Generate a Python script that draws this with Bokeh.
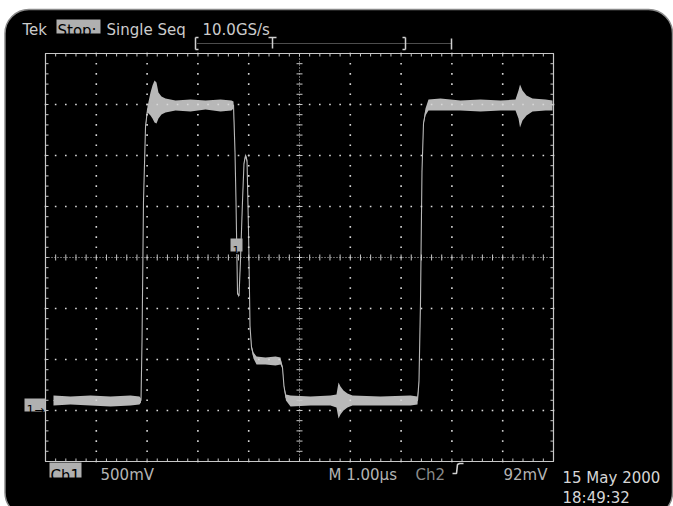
from bokeh.plotting import figure
from bokeh.models import BoxAnnotation, Label, Range1d
from bokeh.embed import file_html
from bokeh.resources import INLINE

# ---------------- data (read from the screen capture) ----------------
# time in microseconds from left edge of graticule, voltage envelope (V) of CH1
time_us = [0.157, 0.492, 0.886, 1.280, 1.673, 1.850, 1.880, 1.900, 1.929, 1.969,
           2.008, 2.067, 2.106, 2.146, 2.185, 2.224, 2.283, 2.362, 2.559, 2.854,
           3.150, 3.445, 3.661, 3.701, 3.730, 3.750, 3.780, 3.809, 3.839, 3.878,
           3.907, 3.937, 3.967, 3.996, 4.026, 4.055, 4.094, 4.154, 4.331, 4.528,
           4.626, 4.665, 4.695, 4.734, 4.823, 5.217, 5.610, 5.728, 5.768, 5.807,
           5.866, 5.945, 6.043, 6.594, 7.185, 7.323, 7.352, 7.382, 7.411, 7.441,
           7.480, 7.539, 7.776, 8.169, 8.563, 8.957, 9.252, 9.311, 9.341, 9.390,
           9.469, 9.587, 9.843, 9.980]
trace_hi_v = [0.078, 0.069, 0.078, 0.069, 0.078, 0.069, 0.049, 0.618, 1.990, 2.725,
              2.912, 3.049, 3.118, 3.167, 3.147, 3.049, 3.010, 2.990, 2.971, 2.980,
              2.971, 2.980, 2.971, 2.961, 2.480, 1.990, 1.088, 1.069, 1.422, 1.990,
              2.363, 2.451, 2.402, 1.716, 0.765, 0.569, 0.500, 0.461, 0.451, 0.461,
              0.451, 0.363, 0.176, 0.088, 0.078, 0.069, 0.078, 0.088, 0.206, 0.167,
              0.127, 0.098, 0.078, 0.069, 0.078, 0.069, 0.225, 1.010, 2.284, 2.755,
              2.892, 2.980, 2.990, 2.971, 2.980, 2.971, 2.980, 3.069, 3.127, 3.069,
              3.020, 2.990, 2.980, 2.971]
trace_lo_v = [-0.020, -0.010, -0.020, -0.029, -0.020, -0.010, 0.010, 0.598, 1.971, 2.706,
              2.853, 2.824, 2.794, 2.755, 2.745, 2.794, 2.833, 2.853, 2.873, 2.863,
              2.882, 2.863, 2.873, 2.892, 2.461, 1.971, 1.069, 1.039, 1.402, 1.971,
              2.343, 2.412, 2.363, 1.696, 0.745, 0.539, 0.441, 0.382, 0.382, 0.373,
              0.382, 0.343, 0.157, 0.029, -0.029, -0.020, -0.020, -0.039, -0.147, -0.108,
              -0.069, -0.039, -0.020, -0.020, -0.020, -0.010, 0.206, 0.990, 2.265, 2.735,
              2.824, 2.873, 2.873, 2.873, 2.863, 2.873, 2.873, 2.794, 2.706, 2.775,
              2.824, 2.863, 2.873, 2.873]

volts_per_div = 0.5
us_per_div = 1.0
n_xdiv = 10
n_ydiv = 8
ground_divs_above_bottom = 1.137

header_texts = ["Tek", "Stop:", "Single Seq", "10.0GS/s"]
footer_texts = ["Ch1", "500mV", "M 1.00\u00b5s", "Ch2", "92mV"]
date_text = "15 May 2000"
time_text = "18:49:32"

# ---------------- layout helpers (page pixels -> data) ----------------
X0, PXT = 45.0, 50.8     # page x of t=0, pixels per microsecond
Y0, PXV = 403.0, 102.0   # page y of 0 V, pixels per volt
W, H = 673, 506


def tx(px):
    return (px - X0) / PXT


def vy(py):
    return (Y0 - py) / PXV


FONT = "DejaVu Sans"
GRAT = "#c8c8c8"
TRACE = "#b8b8b8"
TXT = "#cccccc"
HILITE = "#b0b0b0"

p = figure(width=W, height=H, x_range=Range1d(tx(0), tx(W)),
           y_range=Range1d(vy(H), vy(0)), output_backend="svg",
           toolbar_location=None, x_axis_type=None, y_axis_type=None,
           min_border=0, background_fill_color="white",
           border_fill_color="white", outline_line_color=None)

# black rounded screen
p.add_layout(BoxAnnotation(left=tx(4.5), right=tx(672), top=vy(9), bottom=vy(516),
                           fill_color="black", fill_alpha=1.0, line_color="#8a8a8a",
                           line_alpha=1.0, line_width=1.5, border_radius=24,
                           level="underlay"))

vb = -ground_divs_above_bottom * volts_per_div
vt = vb + n_ydiv * volts_per_div
vc = vb + n_ydiv / 2 * volts_per_div
t_end = n_xdiv * us_per_div
t_mid = t_end / 2

# ---------------- trace ----------------
mid_v = [(a + b) / 2 for a, b in zip(trace_hi_v, trace_lo_v)]
p.varea(x=time_us, y1=trace_lo_v, y2=trace_hi_v, fill_color=TRACE)
p.line(time_us, mid_v, line_color=TRACE, line_width=1.1)

# ---------------- graticule ----------------
p.quad(left=[0], right=[t_end], bottom=[vb], top=[vt], fill_alpha=0,
       line_color=GRAT, line_width=1.2)

dx, dy = [], []
for k in range(1, n_ydiv):
    if 2 * k == n_ydiv:
        continue
    for i in range(n_xdiv * 5 + 1):
        dx.append(i * us_per_div / 5)
        dy.append(vb + k * volts_per_div)
for j in range(1, n_xdiv):
    if 2 * j == n_xdiv:
        continue
    for i in range(n_ydiv * 5 + 1):
        dx.append(j * us_per_div)
        dy.append(vb + i * volts_per_div / 5)
p.scatter(dx, dy, marker="square", size=1.6, fill_color="#d8d8d8", line_color=None)

# center cross (dense dots)
p.line([0, t_end], [vc, vc], line_color=GRAT, line_width=1, line_dash="1 2")
p.line([t_mid, t_mid], [vb, vt], line_color=GRAT, line_width=1, line_dash="1 2")

hx0, hx1, hy0, hy1 = [], [], [], []
tl_v = 3 / PXV
tl_t = 3 / PXT
for i in range(n_xdiv * 5 + 1):
    t = i * us_per_div / 5
    hx0 += [t, t, t]
    hx1 += [t, t, t]
    hy0 += [vc - tl_v, vt, vb]
    hy1 += [vc + tl_v, vt - tl_v, vb + tl_v]
for i in range(n_ydiv * 5 + 1):
    v = vb + i * volts_per_div / 5
    hx0 += [t_mid - tl_t, 0, t_end]
    hx1 += [t_mid + tl_t, tl_t, t_end - tl_t]
    hy0 += [v, v, v]
    hy1 += [v, v, v]
p.segment(hx0, hy0, hx1, hy1, line_color=GRAT, line_width=1)

# ---------------- record-position bar ----------------
bar_y = vy(43)
p.line([tx(197), tx(451)], [bar_y, bar_y], line_color="#9a9a9a", line_width=1, line_dash="1 1")
p.segment([tx(195), tx(195), tx(195), tx(405), tx(405), tx(405), tx(451), tx(268), tx(272)],
          [vy(37), vy(37), vy(49), vy(37), vy(37), vy(49), vy(38), vy(37), vy(37)],
          [tx(195), tx(198), tx(198), tx(405), tx(402), tx(402), tx(451), tx(276), tx(272)],
          [vy(49), vy(37), vy(49), vy(49), vy(37), vy(49), vy(49), vy(37), vy(48)],
          line_color="#cfcfcf", line_width=1.5)


def label(x_px, y_px, text, color=TXT, size="15px", bold=False):
    p.add_layout(Label(x=tx(x_px), y=vy(y_px), text=text, text_font=FONT,
                       text_font_size=size, text_color=color,
                       text_font_style="bold" if bold else "normal",
                       text_baseline="alphabetic", text_align="left",
                       level="overlay"))


def box(x0, x1, y0, y1, color=HILITE):
    p.quad(left=[tx(x0)], right=[tx(x1)], top=[vy(y0)], bottom=[vy(y1)],
           fill_color=color, line_color=None)


# header
label(22, 29, header_texts[0])
box(56, 100, 19, 33)
label(57, 30, header_texts[1], color="black")
label(106, 29, header_texts[2])
label(202, 29, header_texts[3])

# footer
box(49, 81, 462, 477)
label(50, 475, footer_texts[0], color="black")
label(100, 474, footer_texts[1], color="#b4b4b4")
label(328, 474, footer_texts[2], color="#b4b4b4")
label(415, 474, footer_texts[3], color="#8a8a8a")
p.line([tx(452), tx(456), tx(457), tx(459), tx(463)],
       [vy(473), vy(473), vy(464), vy(463), vy(463)], line_color="#d0d0d0", line_width=1.6)
label(503, 474, footer_texts[4], color="#b4b4b4")

label(562, 477, date_text, color="#d6d6d6")
label(562, 497, time_text, color="#d6d6d6")

# ground marker and trigger marker
box(24, 45, 398, 411)
label(26, 409, "1\u2192", color="black", size="12px")
box(230, 242, 238, 251)
label(232, 249, "1", color="black", size="11px")

open("out.html", "w").write(file_html(p, INLINE))
